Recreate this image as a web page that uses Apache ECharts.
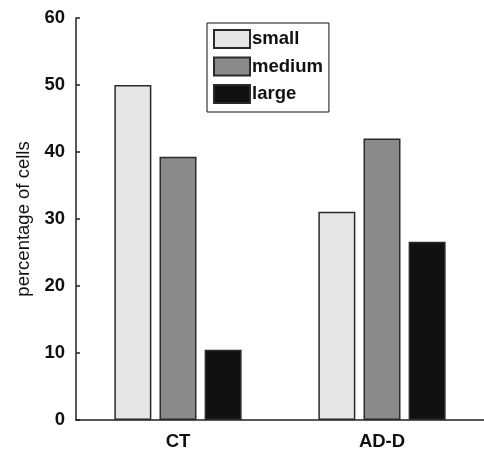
<!DOCTYPE html>
<html>
<head>
<meta charset="utf-8">
<script src="https://cdn.jsdelivr.net/npm/echarts@6/dist/echarts.min.js"></script>
<style>html,body{margin:0;padding:0;background:#fff}#c{width:484px;height:451px}</style>
</head>
<body>
<div id="c"></div>
<script>
const categories = ['CT', 'AD-D'];
const smallVals = [50.0, 31.1];
const mediumVals = [39.3, 42.0];
const largeVals = [10.5, 26.6];
const yTicks = [0, 10, 20, 30, 40, 50, 60];

const FONT = 'Liberation Sans, Arial, sans-serif';
const chart = echarts.init(document.getElementById('c'));
function mk(name, data, color) {
  return {
    name: name, type: 'bar', data: data, barWidth: 37, barGap: '22%',
    itemStyle: { color: color, borderColor: '#2a2a2a', borderWidth: 1.5 }
  };
}
chart.setOption({
  animation: false,
  backgroundColor: '#fff',
  grid: { left: 76, right: -3, top: 18, bottom: 28.5, containLabel: false },
  legend: {
    orient: 'vertical', left: 207, top: 23,
    itemWidth: 36, itemHeight: 18, itemGap: 7.5,
    padding: [6, 6, 8, 6],
    borderColor: '#111', borderWidth: 1,
    icon: 'rect',
    textStyle: { fontFamily: FONT, fontWeight: 'bold', fontSize: 18.5, lineHeight: 18.5, color: '#111', padding: [0, 0, 0, -3] },
    data: ['small', 'medium', 'large']
  },
  xAxis: {
    type: 'category', data: categories,
    axisLine: { lineStyle: { color: '#222', width: 1.5 } },
    axisTick: { show: false },
    axisLabel: { fontFamily: FONT, fontWeight: 'bold', fontSize: 18.5, color: '#111', margin: 12 }
  },
  yAxis: {
    type: 'value', min: yTicks[0], max: yTicks[yTicks.length - 1], interval: 10,
    name: 'percentage of cells', nameLocation: 'middle', nameGap: 43,
    nameTextStyle: { fontFamily: FONT, fontSize: 18.5, color: '#111' },
    axisLine: { show: true, lineStyle: { color: '#222', width: 1.5 } },
    axisTick: { show: true, inside: true, length: 4, lineStyle: { color: '#222', width: 1.5 } },
    splitLine: { show: false },
    axisLabel: { fontFamily: FONT, fontWeight: 'bold', fontSize: 18.5, color: '#111', margin: 11 }
  },
  series: [
    mk('small', smallVals, '#e6e6e6'),
    mk('medium', mediumVals, '#8a8a8a'),
    mk('large', largeVals, '#111111')
  ]
});
</script>
</body>
</html>
